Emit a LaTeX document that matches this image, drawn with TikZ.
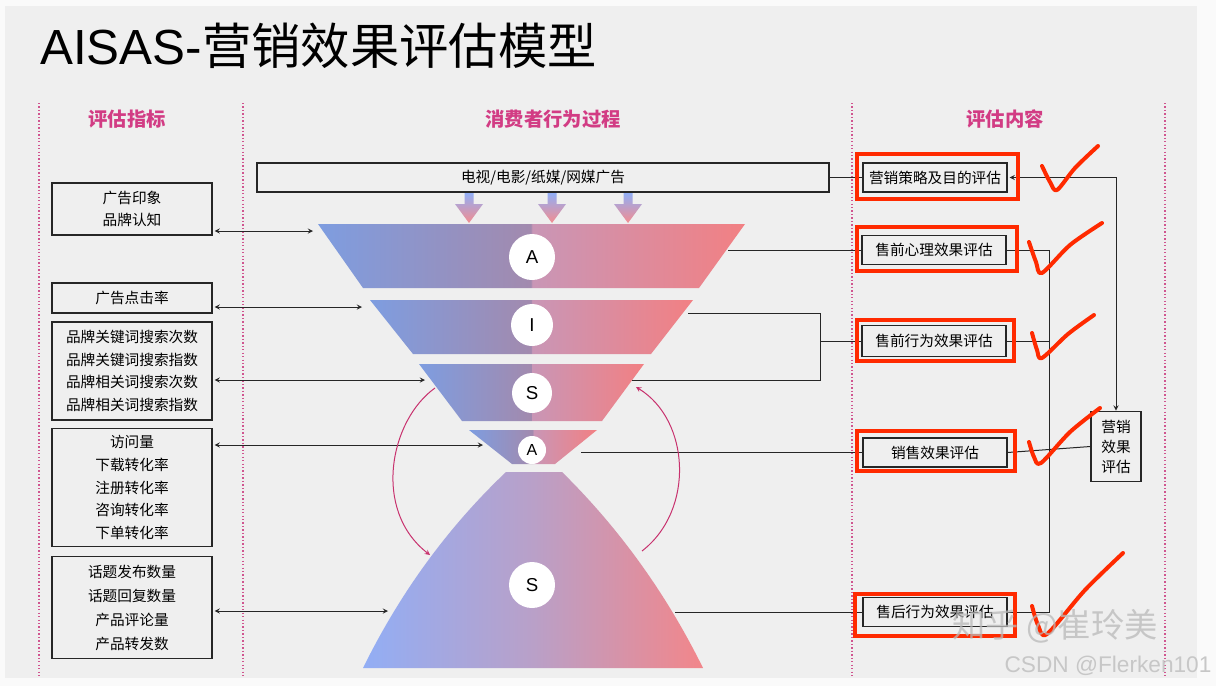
\documentclass[tikz,border=0pt]{standalone}
\usepackage{fontspec}
\setmainfont{Noto Sans CJK SC}
\newfontfamily\latfont{Liberation Sans}
\definecolor{pagebg}{HTML}{FAFAFA}
\definecolor{panel}{HTML}{EFEFEF}
\definecolor{headpink}{HTML}{D23C84}
\definecolor{guide}{HTML}{D0558F}
\definecolor{fblue}{HTML}{7E9DE0}
\definecolor{fmidl}{HTML}{A28AAE}
\definecolor{fmidr}{HTML}{C996B6}
\definecolor{fred}{HTML}{F28083}
\definecolor{sblue}{HTML}{92AEF5}
\definecolor{smid}{HTML}{B9A0C8}
\definecolor{sred}{HTML}{F2868A}
\definecolor{arcpink}{HTML}{C8326E}
\definecolor{markred}{HTML}{FF2A00}
\pgfdeclarehorizontalshading{funnelband}{100bp}{color(0bp)=(fblue); color(25bp)=(fblue); color(49.9bp)=(fmidl); color(50.1bp)=(fmidr); color(75bp)=(fred); color(100bp)=(fred)}
\pgfdeclarehorizontalshading{funnelbase}{100bp}{color(0bp)=(sblue); color(25bp)=(sblue); color(50bp)=(smid); color(75bp)=(sred); color(100bp)=(sred)}

\begin{document}
\begin{tikzpicture}[x=0.75pt, y=-0.75pt,
    metric/.style={draw=black!85, line width=0.9pt, align=center, font=\fontsize{11}{17}\selectfont, minimum width=120pt, inner sep=0pt},
    evalbox/.style={draw=black!85, line width=0.9pt, font=\fontsize{11}{13}\selectfont, minimum width=108pt, minimum height=21.75pt, inner sep=0pt},
    letter/.style={circle, fill=white, inner sep=0pt, font=\latfont\fontsize{14}{14}\selectfont},
    colhead/.style={text=headpink, font=\fontsize{14.5}{16}\selectfont\bfseries},
    link/.style={line width=0.75pt, black!85},
    pair/.style={link, <->, >=stealth, shorten <=1.5pt},
    backarc/.style={arcpink, line width=0.75pt, ->, >=stealth},
    guideline/.style={guide, line width=0.8pt, dash pattern=on 1pt off 1.6pt},
    redmark/.style={draw=markred, line width=3pt},
    checkmark/.style={markred, line width=3pt, line cap=round, line join=round}]
    \useasboundingbox (0,0) rectangle (1216,686);
    \fill[pagebg] (0,0) rectangle (1216,686);
    \fill[panel] (5,6) rectangle (1197,678);
    \foreach \gx in {39,243,852,1165}
        \draw[guideline] (\gx,103) -- (\gx,678);

    \node (title) at (40,46) [anchor=west, inner sep=0pt, font=\fontsize{37}{40}\selectfont] {{\latfont AISAS-}营销效果评估模型};
    \node (hleft) at (127,119) [colhead] {评估指标};
    \node (hmid) at (553,119) [colhead] {消费者行为过程};
    \node (hright) at (1005,119) [colhead] {评估内容};

    \shade[shading=funnelband] (318,224) -- (745,224) -- (699,288) -- (363,288) -- cycle;
    \shade[shading=funnelband] (370,300) -- (693,300) -- (651,354) -- (413,354) -- cycle;
    \shade[shading=funnelband] (419,364) -- (644,364) -- (602,421) -- (462,421) -- cycle;
    \shade[shading=funnelband] (469,430) -- (597,430) -- (555,464) -- (512,464) -- cycle;
    \shade[shading=funnelbase] (506,472) -- (562,472) .. controls (620,529) and (667,595) .. (703,668)
        -- (363,668) .. controls (399,595) and (446,529) .. (506,472) -- cycle;
    \foreach \bx in {469,552,628}
        \shade[top color=sblue, bottom color=fred!90] (\bx-4.5,193) -- (\bx+4.5,193) -- (\bx+4.5,204) -- (\bx+14,204)
            -- (\bx,223) -- (\bx-14,204) -- (\bx-4.5,204) -- cycle;

    \node (sA1) at (532,257) [letter, minimum size=34.5pt] {A};
    \node (sI) at (532,325) [letter, minimum size=31.5pt] {I};
    \node (sS1) at (532,393) [letter, minimum size=30pt] {S};
    \node (sA2) at (532,450) [letter, minimum size=21pt, font=\latfont\fontsize{12}{12}\selectfont] {A};
    \node (sS2) at (532,585) [letter, minimum size=34.5pt] {S};

    \node (ind1) at (132,209) [metric, minimum height=39pt] {广告印象\\品牌认知};
    \node (ind2) at (132,298) [metric, minimum height=22.5pt] {广告点击率};
    \node (ind3) at (132,371) [metric, minimum height=73.5pt] {品牌关键词搜索次数\\品牌关键词搜索指数\\品牌相关词搜索次数\\品牌相关词搜索指数};
    \node (ind4) at (132,487.5) [metric, minimum height=89pt] {访问量\\下载转化率\\注册转化率\\咨询转化率\\下单转化率};
    \node (ind5) at (132,607.5) [metric, minimum height=77pt, font=\fontsize{11}{18}\selectfont] {话题发布数量\\话题回复数量\\产品评论量\\产品转发数};

    \node (ads) at (543,177.5) [draw=black!85, line width=0.9pt, minimum width=429pt, minimum height=21.75pt, font=\fontsize{11}{13}\selectfont] {电视/电影/纸媒/网媒广告};
    \node (eval1) at (935,177.5) [evalbox] {营销策略及目的评估};
    \node (eval2) at (934,250) [evalbox] {售前心理效果评估};
    \node (eval3) at (934,341) [evalbox, minimum height=23pt] {售前行为效果评估};
    \node (eval4) at (935,452.5) [evalbox] {销售效果评估};
    \node (eval5) at (935,612) [evalbox] {售后行为效果评估};
    \node (total) at (1116,446.5) [draw=black!85, line width=0.9pt, minimum width=37.5pt, minimum height=53pt, align=center, font=\fontsize{11}{15}\selectfont] {营销\\效果\\评估};

    \coordinate (fl1) at (313,231);
    \coordinate (fl2) at (362,307);
    \coordinate (fl3) at (425,380);
    \coordinate (fl4) at (483,445);
    \coordinate (fl5) at (388,611);
    \draw[pair] (fl1 -| ind1.east) -- (fl1);
    \draw[pair] (fl2 -| ind2.east) -- (fl2);
    \draw[pair] (fl3 -| ind3.east) -- (fl3);
    \draw[pair] (fl4 -| ind4.east) -- (fl4);
    \draw[pair] (fl5 -| ind5.east) -- (fl5);

    \coordinate (fr1) at (728,250);
    \coordinate (fr2) at (688,313);
    \coordinate (fr3) at (632,380);
    \coordinate (fr4) at (581,452.5);
    \coordinate (fr5) at (675,612);
    \coordinate (jIS) at (820,341);
    \coordinate (bus) at (1049,250);
    \draw[link] (ads) -- (eval1);
    \draw[link] (fr1) -- (eval2);
    \draw[link] (fr2) -| (jIS) |- (fr3);
    \draw[link] (jIS) -- (eval3);
    \draw[link] (fr4) -- (eval4);
    \draw[link] (fr5) -- (eval5);
    \draw[link] (eval2.east) -- (bus) -- (bus |- eval5.east) -- (eval5.east);
    \draw[link] (eval3.east) -- (bus |- eval3.east);
    \draw[link] (eval4.east) -- (total.west);
    \draw[pair] (eval1.east) -| (total.north);

    \coordinate (arcLs) at (435,388);
    \coordinate (arcLe) at (430,555);
    \coordinate (arcRs) at (642,551);
    \coordinate (arcRe) at (636,387);
    \draw[backarc] (arcLs) .. controls (390,420) and (372,510) .. (arcLe);
    \draw[backarc] (arcRs) .. controls (695,510) and (690,420) .. (arcRe);

    \draw[redmark] (857,154) rectangle (1018,199);
    \draw[redmark] (857,227) rectangle (1017,271);
    \draw[redmark] (857,320) rectangle (1014,361);
    \draw[redmark] (857,431) rectangle (1015,471);
    \draw[redmark] (855,594) rectangle (1015,636);
    \draw[checkmark] plot[smooth] coordinates {(1042,166) (1050,182) (1057,190) (1075,168) (1098,146)};
    \draw[checkmark] plot[smooth] coordinates {(1029,242) (1036,262) (1042,273) (1070,245) (1102,223)};
    \draw[checkmark] plot[smooth] coordinates {(1032,333) (1037,350) (1042,358) (1068,334) (1094,315)};
    \draw[checkmark] plot[smooth] coordinates {(1029,442) (1034,457) (1041,463) (1070,432) (1100,408)};
    \draw[checkmark] plot[smooth] coordinates {(1032,606) (1038,625) (1047,634) (1085,590) (1123,553)};

    \node (wm1) at (1055,626) [text=gray!55, opacity=0.75, font=\fontsize{25}{27}\selectfont] {知乎 @崔玲美};
    \node (wm2) at (1108,666) [text=black!22, font=\latfont\fontsize{17}{18}\selectfont] {CSDN @Flerken101};
\end{tikzpicture}
\end{document}
